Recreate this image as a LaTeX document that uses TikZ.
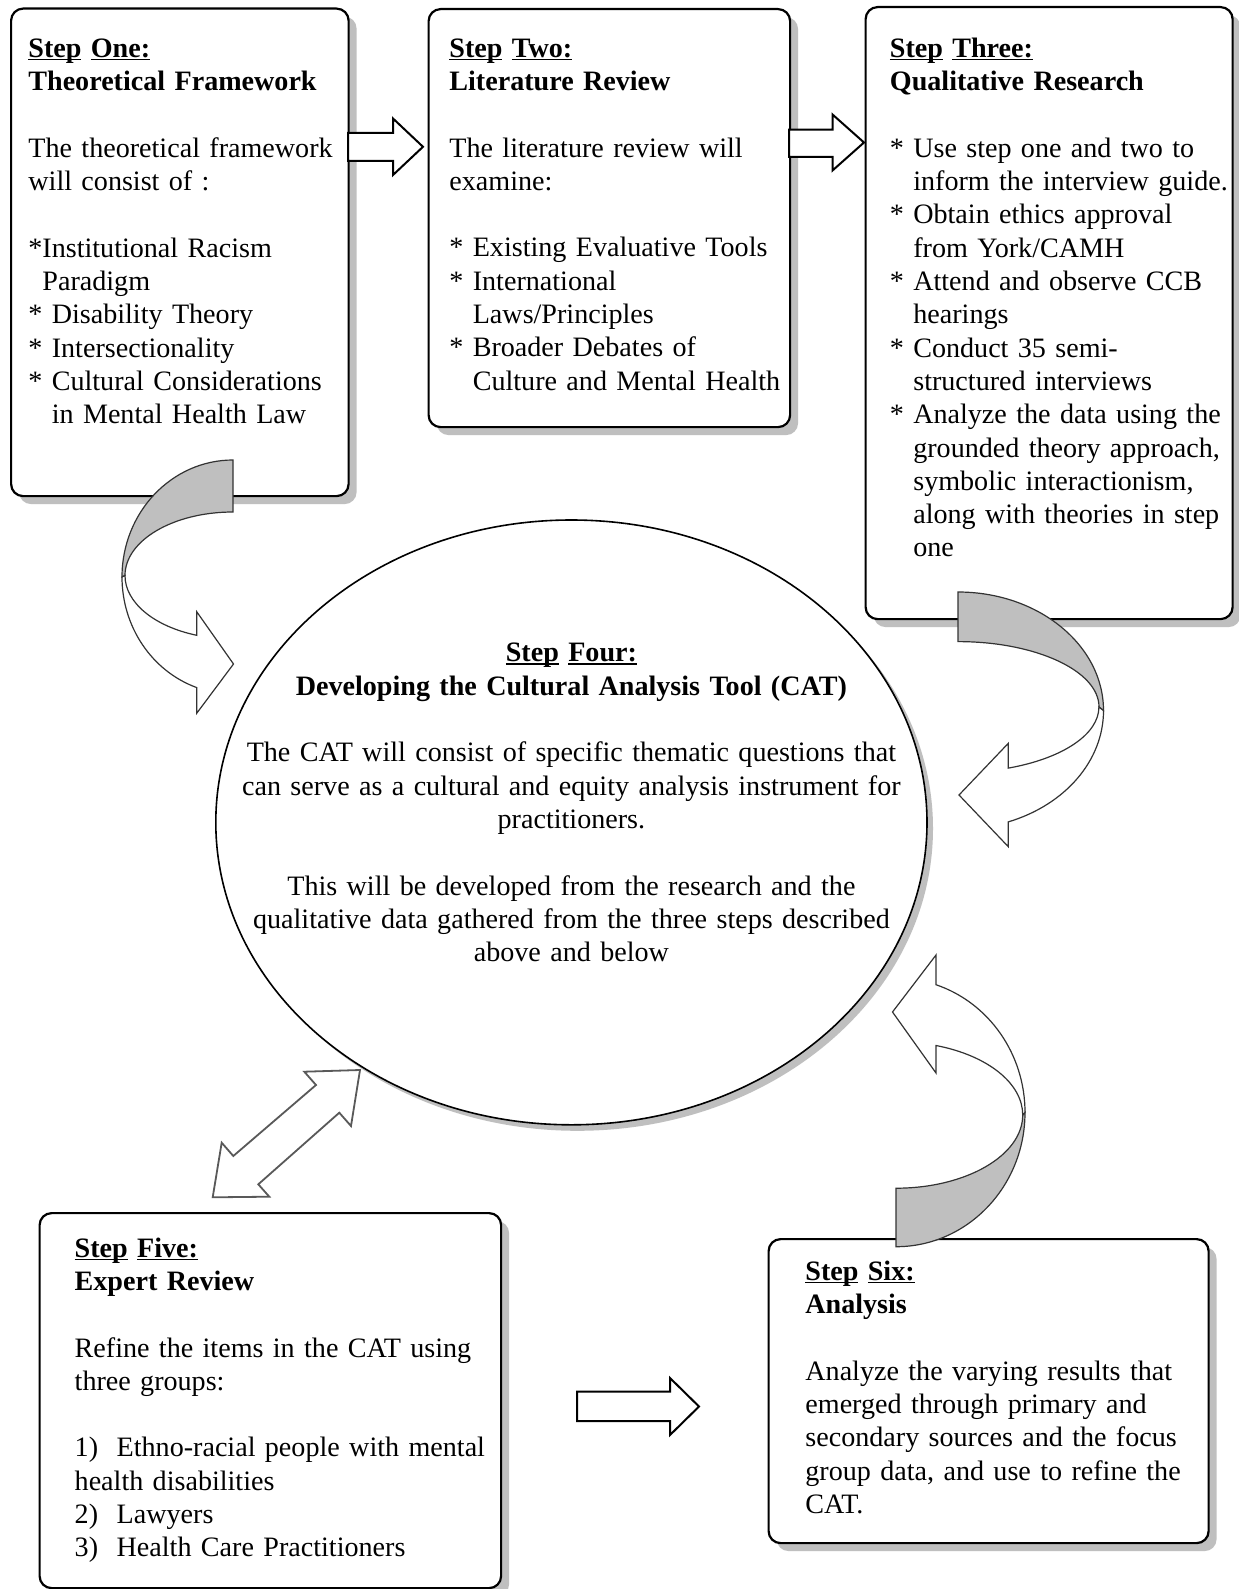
\documentclass[tikz,border=0pt]{standalone}
\usepackage{fontspec}
\setmainfont{Liberation Serif}
\usetikzlibrary{shapes.geometric,shadows}
\newcommand\stepul[1]{\setbox0\hbox{#1}\rlap{\rule[-1.5pt]{\wd0}{0.8pt}}\box0\relax}
\newcommand\gap{\\[16.65pt]}
\newcommand\ind{\phantom{* }}
\begin{document}
\begin{tikzpicture}[x=0.5pt,y=-0.5pt,
  stepbox/.style={draw=black, line width=1.1pt, rounded corners=6pt, fill=white, inner sep=0pt, anchor=north west,
    drop shadow={shadow xshift=4pt, shadow yshift=-4pt, fill=gray!50, opacity=1}},
  txt/.style={anchor=north west, inner sep=0pt, text width=250pt, align=left, font=\fontsize{14.05}{16.65}\selectfont},
  ctxt/.style={anchor=north, inner sep=0pt, text width=360pt, align=center, font=\fontsize{14.05}{16.65}\selectfont},
  blockarrow/.style={draw=black, fill=white, line width=1pt, line join=miter},
  dblarrow/.style={draw=black!65, fill=white, line width=0.9pt, line join=miter},
  cback/.style={draw=black!80, fill=gray!50, line width=0.6pt},
  cfront/.style={draw=black!80, fill=white, line width=0.6pt}]
\useasboundingbox[fill=white] (0,0) rectangle (1238,1589);

% boxes
\node[stepbox, minimum width=168.75pt, minimum height=243.75pt] (b1) at (10,7.5) {};
\node[stepbox, minimum width=180.75pt, minimum height=209pt] (b2) at (427.5,8) {};
\node[stepbox, minimum width=183.5pt, minimum height=306pt] (b3) at (864.5,6) {};
\node[stepbox, minimum width=230.75pt, minimum height=187.5pt] (b5) at (38.5,1212) {};
\node[stepbox, minimum width=220pt, minimum height=152pt] (b6) at (767.5,1238) {};
\node[ellipse, draw=black, line width=0.8pt, fill=white, minimum width=355.6pt, minimum height=302.4pt, inner sep=0pt,
  drop shadow={shadow xshift=3pt, shadow yshift=-3pt, fill=gray!50, opacity=1}] (e4) at (571.4,822.4) {};

% texts
\node[txt] (t1) at (28,33.7) {\strut\bfseries\stepul{Step} \stepul{One:}\\
Theoretical Framework\gap\mdseries
The theoretical framework\\
will consist of :\gap
*Institutional Racism\\
\phantom{*}Paradigm\\{}
* Disability Theory\\{}
* Intersectionality\\{}
* Cultural Considerations\\
\ind in Mental Health Law};

\node[txt] (t2) at (449,33.4) {\strut\bfseries\stepul{Step} \stepul{Two:}\\
Literature Review\gap\mdseries
The literature review will\\
examine:\gap
* Existing Evaluative Tools\\{}
* International\\
\ind Laws/Principles\\{}
* Broader Debates of\\
\ind Culture and Mental Health};

\node[txt] (t3) at (889.5,33.7) {\strut\bfseries\stepul{Step} \stepul{Three:}\\
Qualitative Research\gap\mdseries
* Use step one and two to\\
\ind inform the interview guide.\\{}
* Obtain ethics approval\\
\ind from York/CAMH\\{}
* Attend and observe CCB\\
\ind hearings\\{}
* Conduct 35 semi-\\
\ind structured interviews\\{}
* Analyze the data using the\\
\ind grounded theory approach,\\
\ind symbolic interactionism,\\
\ind along with theories in step\\
\ind one};

\node[ctxt] (t4) at (571.4,638.2) {\strut\bfseries\stepul{Step} \stepul{Four:}\\
Developing the Cultural Analysis Tool (CAT)\gap\mdseries
The CAT will consist of specific thematic questions that\\
can serve as a cultural and equity analysis instrument for\\
practitioners.\gap
This will be developed from the research and the\\
qualitative data gathered from the three steps described\\
above and below};

\node[txt] (t5) at (74.3,1233.4) {\strut\bfseries\stepul{Step} \stepul{Five:}\\
Expert Review\gap\mdseries
Refine the items in the CAT using\\
three groups:\gap
\makebox[21pt][l]{1)}Ethno-racial people with mental\\
health disabilities\\
\makebox[21pt][l]{2)}Lawyers\\
\makebox[21pt][l]{3)}Health Care Practitioners};

\node[txt] (t6) at (805,1256.7) {\strut\bfseries\stepul{Step} \stepul{Six:}\\
Analysis\gap\mdseries
Analyze the varying results that\\
emerged through primary and\\
secondary sources and the focus\\
group data, and use to refine the\\
CAT.};

% straight block arrows
\draw[blockarrow] (348,133) -- (393,133) -- (393,118.5) -- (423,146.8) -- (393,175) -- (393,161) -- (348,161) -- cycle;
\draw[blockarrow] (789,129.7) -- (832.5,129.7) -- (832.5,114.5) -- (864,142.5) -- (832.5,170.5) -- (832.5,157) -- (789,157) -- cycle;
\draw[blockarrow] (577,1391.5) -- (670,1391.5) -- (670,1378) -- (699,1406.5) -- (670,1435) -- (670,1421) -- (577,1421) -- cycle;

% double arrow
\draw[dblarrow] (360,1070) -- (304.3,1071.7) -- (316,1085) -- (233.3,1156) -- (221.7,1142.7) -- (212.7,1197.3)
  -- (269.3,1196.7) -- (258.3,1184.3) -- (339.3,1112.7) -- (351,1126) -- cycle;

% curved arrow A (step one -> step four)
\draw[cback] (233,460) arc[start angle=-90, end angle=-180, x radius=111, y radius=117]
  -- (125,575.5) arc[start angle=180, end angle=270, x radius=108, y radius=63.5] -- cycle;
\draw[cfront] (122,577) arc[start angle=180, end angle=109.1, x radius=111, y radius=117]
  -- (196.7,713.3) -- (233.5,664) -- (196.7,611.7) -- (196.7,635.3)
  arc[start angle=109.64, end angle=180, x radius=108, y radius=63.5] -- cycle;

% curved arrow B (step three -> step four)
\draw[cback] (958,592) arc[start angle=-90, end angle=0, x radius=145.5, y radius=118.6]
  -- (1099,707) arc[start angle=0, end angle=-90, x radius=141, y radius=65.4] -- cycle;
\draw[cfront] (1103.5,710.6) arc[start angle=0, end angle=69.77, x radius=145.5, y radius=118.6]
  -- (1008.3,846.7) -- (959,795) -- (1008.3,743.3) -- (1008.3,768.1)
  arc[start angle=69.06, end angle=0, x radius=141, y radius=65.4] -- cycle;

% curved arrow C (step six -> step four)
\draw[cback] (896,1246.7) arc[start angle=90, end angle=0, x radius=129, y radius=134.3]
  -- (1022.7,1115) arc[start angle=0, end angle=90, x radius=126.7, y radius=73.2] -- cycle;
\draw[cfront] (1025,1112.4) arc[start angle=0, end angle=-71.94, x radius=129, y radius=134.3]
  -- (936,955) -- (892.5,1012) -- (936,1073) -- (936,1045.5)
  arc[start angle=-71.6, end angle=0, x radius=126.7, y radius=73.2] -- cycle;
\end{tikzpicture}
\end{document}
